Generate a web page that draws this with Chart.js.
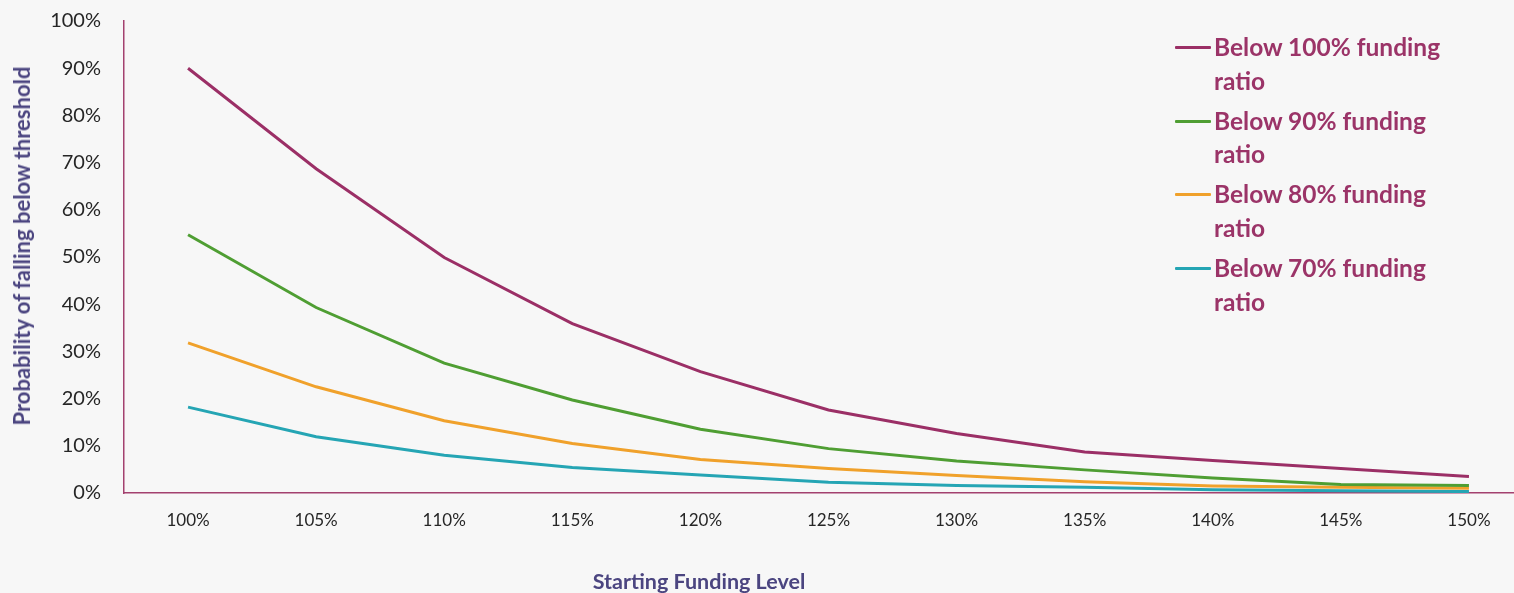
<!DOCTYPE html>
<html>
<head>
<meta charset="utf-8">
<title>Probability of falling below funding thresholds</title>
<script src="https://cdn.jsdelivr.net/npm/chart.js@4/dist/chart.umd.min.js"></script>
<style>
  html, body { margin: 0; padding: 0; background: #f7f7f7; overflow: hidden; }
  #wrap { position: relative; width: 1533px; height: 593px; }
  #legend { position: absolute; left: 1175px; top: 30px; font-family: Lato, "Open Sans", sans-serif; }
  .item { position: relative; padding-left: 39px; margin-bottom: 6.7px; font-weight: bold; font-size: 24.5px; line-height: 33.5px; color: #9b3468; width: 250px; }
  .swatch { position: absolute; left: 0; top: 16px; width: 36px; height: 3px; border-radius: 1px; }
  .axis-title { position: absolute; font-family: Lato, "Open Sans", sans-serif; font-weight: bold; color: #4b4580; white-space: nowrap; line-height: 1; }
  #xTitle { left: 699px; top: 582px; font-size: 21.5px; transform: translate(-50%, -50%); }
  #yTitle { left: 22px; top: 246px; font-size: 22px; transform: translate(-50%, -50%) rotate(-90deg); }
</style>
</head>
<body>
<div id="wrap">
  <canvas id="chart" width="1533" height="593"></canvas>
  <div id="legend"></div>
  <div class="axis-title" id="xTitle"></div>
  <div class="axis-title" id="yTitle"></div>
</div>
<script>
// Starting funding levels (x axis)
const startingLevels = ['100%', '105%', '110%', '115%', '120%', '125%', '130%', '135%', '140%', '145%', '150%'];

// Probability (%) of the funding ratio dropping below each threshold
const below100 = [90.0, 68.7, 49.9, 35.9, 25.7, 17.6, 12.6, 8.7, 6.9, 5.2, 3.5];
const below90  = [54.7, 39.3, 27.5, 19.7, 13.5, 9.4, 6.8, 4.9, 3.2, 1.8, 1.6];
const below80  = [31.8, 22.5, 15.3, 10.5, 7.1, 5.2, 3.7, 2.4, 1.5, 1.2, 1.0];
const below70  = [18.2, 11.9, 8.0, 5.4, 3.8, 2.3, 1.6, 1.2, 0.7, 0.5, 0.3];

const seriesNames = ['Below 100% funding ratio', 'Below 90% funding ratio', 'Below 80% funding ratio', 'Below 70% funding ratio'];
const seriesColors = ['#9b2f66', '#4f9e33', '#f0a12b', '#25a5b4'];
const seriesValues = [below100, below90, below80, below70];

const xAxisTitle = 'Starting Funding Level';
const yAxisTitle = 'Probability of falling below threshold';

const fontFamily = 'Lato, "Open Sans", sans-serif';

const datasets = seriesValues.map((values, i) => ({
  label: seriesNames[i],
  data: values,
  borderColor: seriesColors[i],
  backgroundColor: seriesColors[i],
  borderWidth: 3,
  pointRadius: 0,
  pointHoverRadius: 0,
  tension: 0,
  fill: false
}));

const chart = new Chart(document.getElementById('chart'), {
  type: 'line',
  data: { labels: startingLevels, datasets },
  options: {
    responsive: false,
    animation: false,
    layout: { padding: { top: 21, left: 0, right: 0, bottom: 0 } },
    plugins: {
      legend: { display: false },
      tooltip: { enabled: false }
    },
    scales: {
      x: {
        type: 'category',
        offset: true,
        grid: { display: false, drawTicks: false },
        border: { display: true, color: '#a3416f', width: 1.5 },
        ticks: {
          color: '#262626',
          font: { family: fontFamily, size: 17 },
          padding: 17,
          maxRotation: 0,
          autoSkip: false
        },
        afterFit: (scale) => { scale.height = 100; }
      },
      y: {
        min: 0,
        max: 100,
        // hidden tick marks provide the gap between labels and the axis line
        grid: { display: false, drawTicks: true, tickLength: 23 },
        border: { display: true, color: '#a3416f', width: 1.5 },
        ticks: {
          stepSize: 10,
          color: '#262626',
          font: { family: fontFamily, size: 20 },
          padding: 0,
          callback: (v) => v + '%'
        },
        afterFit: (scale) => { scale.width = 124; }
      }
    }
  }
});

document.getElementById('xTitle').textContent = xAxisTitle;
document.getElementById('yTitle').textContent = yAxisTitle;

// Legend built from the chart's own datasets, wrapped onto two lines like the series names
const legendEl = document.getElementById('legend');
chart.data.datasets.forEach((ds) => {
  const item = document.createElement('div');
  item.className = 'item';
  const sw = document.createElement('span');
  sw.className = 'swatch';
  sw.style.background = ds.borderColor;
  item.appendChild(sw);
  item.appendChild(document.createTextNode(ds.label));
  legendEl.appendChild(item);
});
</script>
</body>
</html>
